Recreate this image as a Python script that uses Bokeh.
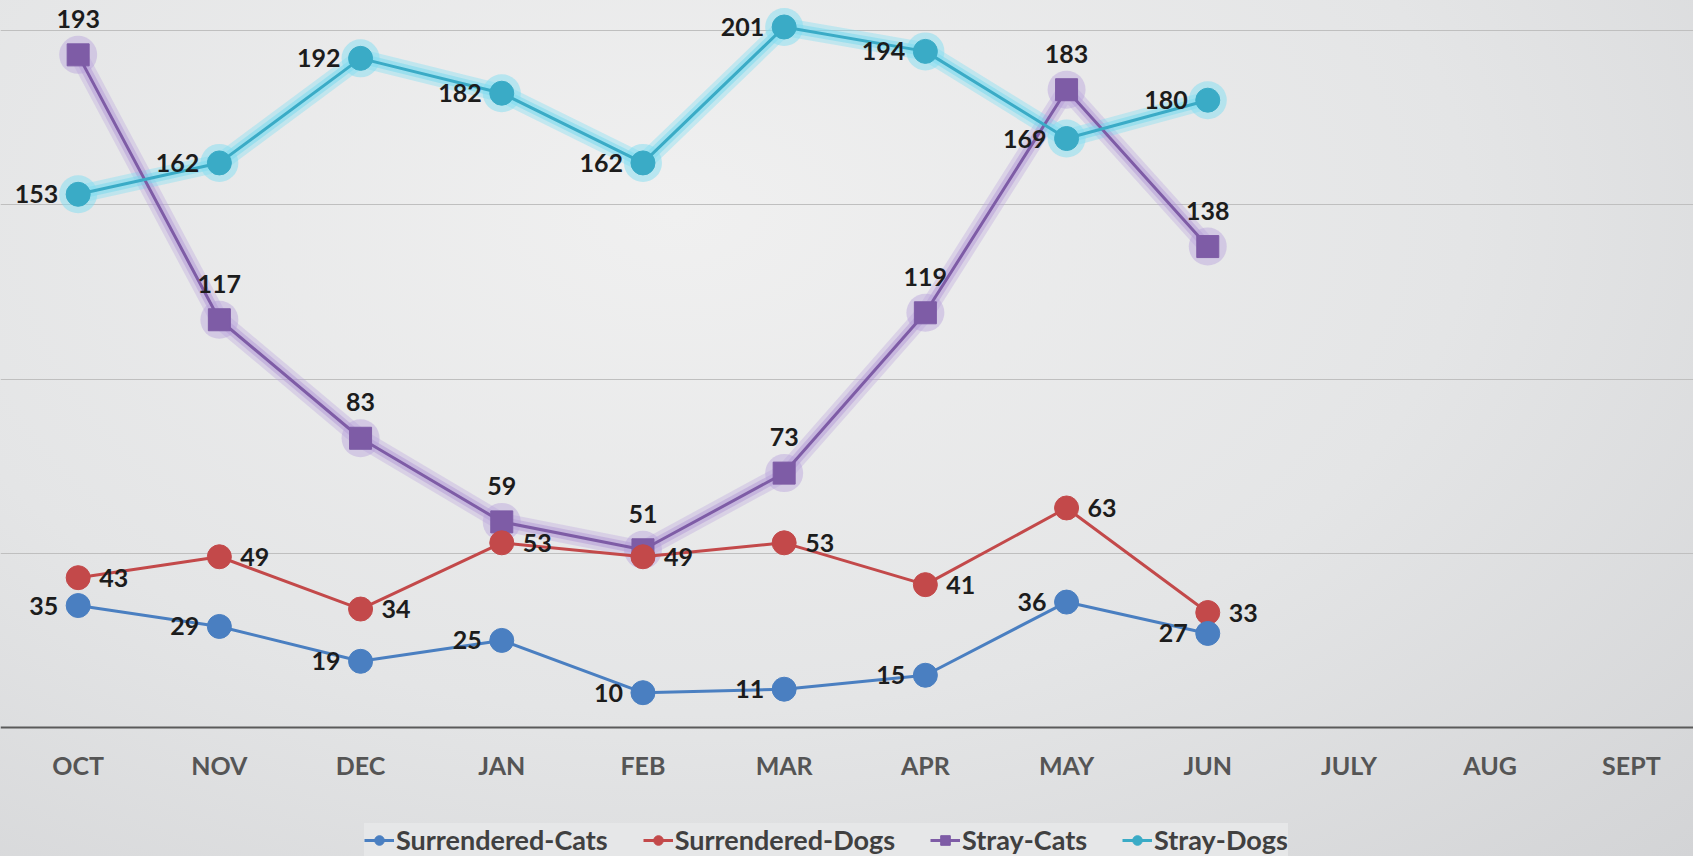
from bokeh.plotting import figure
from bokeh.models import ColumnDataSource, Range1d, FixedTicker, Legend, LegendItem, Grid
from bokeh.core.properties import value
from bokeh.embed import file_html
from bokeh.resources import INLINE

months = ["OCT", "NOV", "DEC", "JAN", "FEB", "MAR", "APR", "MAY", "JUN", "JULY", "AUG", "SEPT"]
surrendered_cats = [35, 29, 19, 25, 10, 11, 15, 36, 27]
surrendered_dogs = [43, 49, 34, 53, 49, 53, 41, 63, 33]
stray_cats = [193, 117, 83, 59, 51, 73, 119, 183, 138]
stray_dogs = [153, 162, 192, 182, 162, 201, 194, 169, 180]
grid_values = [50, 100, 150, 200]

C_BLUE = "#4a7fc1"
C_RED = "#c3494a"
C_PURPLE = "#7e5ca6"
C_TEAL = "#3aabc6"
FONT_NAME = "Lato"

W, H = 1693, 856
p = figure(width=W, height=H, output_backend="svg", toolbar_location=None,
           x_range=Range1d(-0.550, 11.440), y_range=Range1d(-37.0, 208.6),
           y_axis_location=None,
           min_border_left=0, min_border_right=0, min_border_top=0, min_border_bottom=0)
p.outline_line_color = None
p.background_fill_alpha = 0
p.border_fill_alpha = 0
p.styles = {"background-image": "radial-gradient(ellipse at 40% 25%, #f0f0f0 0%, #e4e5e6 55%, #d3d4d6 100%)"}
p.xgrid.grid_line_color = None
p.add_layout(Grid(dimension=1, ticker=FixedTicker(ticks=grid_values),
                  grid_line_color="#bfbfbf", grid_line_width=1))

xa = p.xaxis[0]
xa.fixed_location = 0
xa.ticker = FixedTicker(ticks=list(range(len(months))))
xa.major_label_overrides = {i: m for i, m in enumerate(months)}
xa.major_tick_out = 0
xa.major_tick_in = 0
xa.minor_tick_out = 0
xa.minor_tick_in = 0
xa.axis_line_color = "#5a5a5a"
xa.axis_line_width = 2
xa.major_label_standoff = 22
xa.major_label_text_font = FONT_NAME
xa.major_label_text_font_style = "bold"
xa.major_label_text_font_size = "25px"
xa.major_label_text_color = "#555555"

xs = list(range(len(surrendered_cats)))

def labels(vals, xo, yo, align, baseline):
    src = ColumnDataSource(dict(x=xs, y=vals, t=[str(v) for v in vals]))
    p.text(x="x", y="y", text="t", source=src, x_offset=xo, y_offset=yo,
           text_align=align, text_baseline=baseline, text_font=value(FONT_NAME),
           text_font_style="bold", text_font_size="25px", text_color="#1c1c1c")

# glow for stray series
p.line(xs, stray_cats, line_color="#b9a2dc", line_width=18, line_alpha=0.35)
p.line(xs, stray_dogs, line_color="#82def2", line_width=18, line_alpha=0.4)
p.line(xs, stray_cats, line_color="#a98bd2", line_width=10, line_alpha=0.4)
p.line(xs, stray_dogs, line_color="#6fd6ee", line_width=10, line_alpha=0.45)
p.scatter(xs, stray_cats, marker="circle", size=38, fill_color="#b9a2dc", fill_alpha=0.45, line_color=None)
p.scatter(xs, stray_dogs, marker="circle", size=38, fill_color="#82def2", fill_alpha=0.5, line_color=None)

r_sc_l = p.line(xs, stray_cats, line_color=C_PURPLE, line_width=3)
r_sc_m = p.scatter(xs, stray_cats, marker="square", size=22, fill_color=C_PURPLE, line_color=C_PURPLE)
r_sd_l = p.line(xs, stray_dogs, line_color=C_TEAL, line_width=3)
r_sd_m = p.scatter(xs, stray_dogs, marker="circle", size=24, fill_color=C_TEAL, line_color=C_TEAL)

r_cd_l = p.line(xs, surrendered_dogs, line_color=C_RED, line_width=3)
r_cd_m = p.scatter(xs, surrendered_dogs, marker="circle", size=24, fill_color=C_RED, line_color=C_RED)
r_cc_l = p.line(xs, surrendered_cats, line_color=C_BLUE, line_width=3)
r_cc_m = p.scatter(xs, surrendered_cats, marker="circle", size=24, fill_color=C_BLUE, line_color=C_BLUE)

labels(surrendered_cats, -20, 0, "right", "middle")
labels(surrendered_dogs, 21, 0, "left", "middle")
labels(stray_cats, 0, -27, "center", "bottom")
labels(stray_dogs, -20, 0, "right", "middle")

legend = Legend(items=[
    LegendItem(label="Surrendered-Cats", renderers=[r_cc_l, r_cc_m]),
    LegendItem(label="Surrendered-Dogs", renderers=[r_cd_l, r_cd_m]),
    LegendItem(label="Stray-Cats", renderers=[r_sc_l, r_sc_m]),
    LegendItem(label="Stray-Dogs", renderers=[r_sd_l, r_sd_m]),
], orientation="horizontal", location=(364, 0))
legend.label_text_font = FONT_NAME
legend.label_text_font_style = "bold"
legend.label_text_font_size = "27px"
legend.label_text_color = "#404040"
legend.glyph_width = 30
legend.glyph_height = 24
legend.label_standoff = 2
legend.spacing = 35
legend.padding = 5
legend.margin = 0
legend.background_fill_color = "#e6e7e8"
legend.background_fill_alpha = 1
legend.border_line_color = None
p.add_layout(legend, "center")

open("out.html", "w").write(file_html(p, INLINE))
